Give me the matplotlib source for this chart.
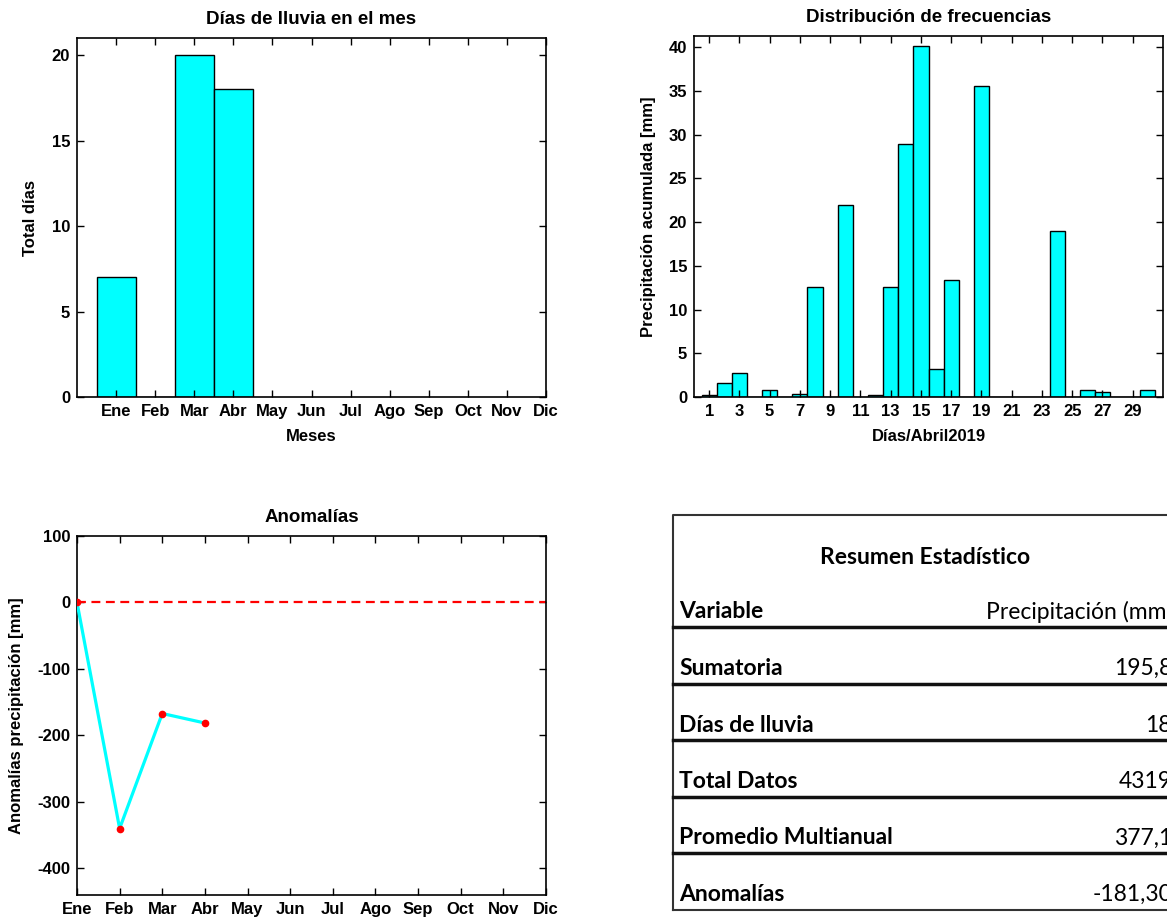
import matplotlib
matplotlib.use("Agg")
import matplotlib.pyplot as plt
import numpy as np

# Meses del año
meses = ['Ene', 'Feb', 'Mar', 'Abr', 'May', 'Jun', 'Jul', 'Ago', 'Sep', 'Oct', 'Nov', 'Dic']

# Días de lluvia por mes (solo meses con registro)
dias_lluvia = [7, 0, 20, 18]

# Precipitación diaria abril 2019 [mm]
dias_abril = list(range(1, 31))
precip_abril = [0.2, 1.6, 2.8, 0.0, 0.8, 0.0, 0.4, 12.6, 0.0, 22.0,
                0.0, 0.2, 12.6, 29.0, 40.2, 3.2, 13.4, 0.0, 35.6, 0.0,
                0.0, 0.0, 0.0, 19.0, 0.0, 0.8, 0.6, 0.0, 0.0, 0.8]

# Anomalías mensuales [mm]
anomalias = [0.0, -340.0, -167.0, -181.3]

# Resumen estadístico
resumen_vars = ['Sumatoria', 'Días de lluvia', 'Total Datos', 'Promedio Multianual', 'Anomalías']
resumen_vals = ['195,8', '18', '4319', '377,1', '-181,30']

W, H = 1167, 923
plt.rcParams['font.family'] = ['Liberation Sans', 'DejaVu Sans']
plt.rcParams['font.weight'] = 'bold'
plt.rcParams['font.size'] = 12
plt.rcParams['axes.unicode_minus'] = False

fig = plt.figure(figsize=(W / 100, H / 100), dpi=100)


def px_axes(left, top, right, bottom):
    return fig.add_axes([left / W, 1 - bottom / H, (right - left) / W, (bottom - top) / H])


def style(ax):
    ax.tick_params(direction='in', top=True, right=True, length=5, width=1,
                   labelsize=12, pad=5)
    for s in ax.spines.values():
        s.set_linewidth(1.2)


# --- Días de lluvia en el mes
ax1 = px_axes(77, 38, 546, 397)
x1 = np.arange(1, len(dias_lluvia) + 1)
ax1.bar(x1, dias_lluvia, width=1.0, color='#00FFFF', edgecolor='black', linewidth=1)
ax1.set_xlim(0, 12)
ax1.set_ylim(0, 21)
ax1.set_xticks(np.arange(1, 13))
ax1.set_xticklabels(meses)
ax1.set_yticks([0, 5, 10, 15, 20])
ax1.set_title('Días de lluvia en el mes', fontsize=13.5, fontweight='bold', pad=10)
ax1.set_xlabel('Meses', fontsize=12, fontweight='bold')
ax1.set_ylabel('Total días', fontsize=12, fontweight='bold')
ax1.xaxis.set_label_coords(0.5, -0.09)
ax1.yaxis.set_label_coords(-0.083, 0.5)
style(ax1)

# --- Distribución de frecuencias
ax2 = px_axes(694, 36, 1163, 397)
ax2.bar(dias_abril, precip_abril, width=1.0, color='#00FFFF', edgecolor='black', linewidth=1)
ax2.set_xlim(0, 31)
ax2.set_ylim(0, 41.3)
ax2.set_xticks(np.arange(1, 30, 2))
ax2.set_yticks(np.arange(0, 41, 5))
ax2.set_title('Distribución de frecuencias', fontsize=13.5, fontweight='bold', pad=10)
ax2.set_xlabel('Días/Abril2019', fontsize=12, fontweight='bold')
ax2.set_ylabel('Precipitación acumulada [mm]', fontsize=12, fontweight='bold')
ax2.xaxis.set_label_coords(0.5, -0.09)
ax2.yaxis.set_label_coords(-0.082, 0.5)
style(ax2)

# --- Anomalías
ax3 = px_axes(77, 536, 546, 895)
x3 = np.arange(1, len(anomalias) + 1)
ax3.axhline(0, color='red', linestyle='--', linewidth=1.6, dashes=(4, 2.5))
ax3.plot(x3, anomalias, color='#00FFFF', linewidth=2.3, zorder=3)
ax3.plot(x3, anomalias, 'o', color='red', markersize=4.5, zorder=4)
ax3.set_xlim(1, 12)
ax3.set_ylim(-440, 100)
ax3.set_xticks(np.arange(1, 13))
ax3.set_xticklabels(meses)
ax3.set_yticks(np.arange(-400, 101, 100))
ax3.set_title('Anomalías', fontsize=13.5, fontweight='bold', pad=10)
ax3.set_ylabel('Anomalías precipitación [mm]', fontsize=12, fontweight='bold')
ax3.yaxis.set_label_coords(-0.112, 0.5)
style(ax3)

# --- Resumen estadístico (tabla en coordenadas de pixel)
ax4 = fig.add_axes([0, 0, 1, 1], zorder=-1)
ax4.set_xlim(0, W)
ax4.set_ylim(H, 0)
ax4.axis('off')
tfont = ['Lato', 'DejaVu Sans']
tsize = 16.5
ax4.plot([673, 673, 1200], [910, 515, 515], color='#333333', linewidth=1.5)
ax4.plot([673, 1200], [910, 910], color='#333333', linewidth=1.5)
ax4.text(925, 558, 'Resumen Estadístico', family=tfont, fontsize=tsize,
         fontweight='bold', ha='center', va='center')
ax4.text(679, 612, 'Variable', family=tfont, fontsize=tsize, fontweight='bold',
         ha='left', va='center')
ax4.text(1172, 612, 'Precipitación (mm)', family=tfont, fontsize=tsize,
         fontweight='normal', ha='right', va='center')
row_top = 627
row_h = 56.5
ax4.plot([673, 1200], [row_top, row_top], color='#111111', linewidth=2.5)
for i, (nombre, valor) in enumerate(zip(resumen_vars, resumen_vals)):
    y_txt = row_top + row_h * (i + 1) - 15
    ax4.text(679, y_txt, nombre, family=tfont, fontsize=tsize, fontweight='bold',
             ha='left', va='center')
    ax4.text(1172, y_txt, valor, family=tfont, fontsize=tsize, fontweight='normal',
             ha='right', va='center')
    if i < len(resumen_vars) - 1:
        y_line = row_top + row_h * (i + 1)
        ax4.plot([673, 1200], [y_line, y_line], color='#111111', linewidth=2.5)

fig.savefig('out.png', dpi=100)
